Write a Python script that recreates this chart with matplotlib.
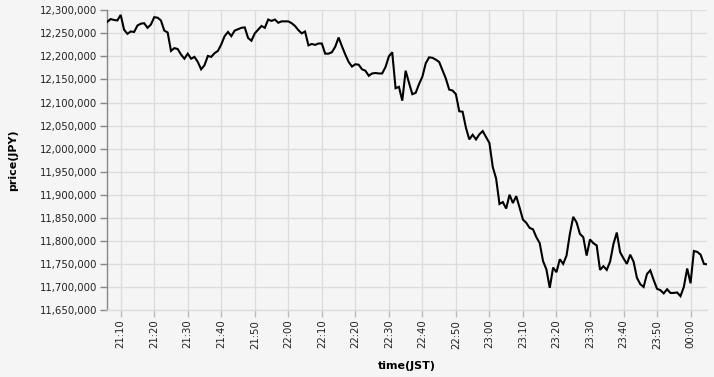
import matplotlib
matplotlib.use("Agg")
import matplotlib.pyplot as plt
import matplotlib.dates as mdates
from matplotlib.ticker import FuncFormatter, MultipleLocator
import pandas as pd

start_time = "2024-01-01 21:06"
prices = [
    12275000, 12281000, 12279000, 12278000, 12290000, 12258000, 12249000, 12254000, 12253000, 12267000,
    12271000, 12272000, 12262000, 12269000, 12285000, 12284000, 12278000, 12256000, 12252000, 12212000,
    12218000, 12216000, 12204000, 12195000, 12206000, 12195000, 12199000, 12188000, 12172000, 12181000,
    12201000, 12199000, 12207000, 12212000, 12226000, 12244000, 12253000, 12244000, 12256000, 12259000,
    12262000, 12263000, 12240000, 12234000, 12250000, 12258000, 12266000, 12262000, 12280000, 12277000,
    12280000, 12273000, 12276000, 12276000, 12276000, 12272000, 12266000, 12257000, 12250000, 12254000,
    12224000, 12227000, 12225000, 12228000, 12228000, 12206000, 12206000, 12209000, 12221000, 12241000,
    12222000, 12204000, 12188000, 12178000, 12183000, 12182000, 12172000, 12169000, 12158000, 12163000,
    12164000, 12163000, 12163000, 12177000, 12200000, 12209000, 12131000, 12134000, 12104000, 12169000,
    12143000, 12118000, 12121000, 12140000, 12156000, 12185000, 12198000, 12197000, 12193000, 12188000,
    12170000, 12152000, 12128000, 12126000, 12118000, 12081000, 12080000, 12045000, 12020000, 12030000,
    12020000, 12031000, 12038000, 12025000, 12012000, 11960000, 11935000, 11880000, 11884000, 11870000,
    11900000, 11882000, 11897000, 11872000, 11846000, 11839000, 11828000, 11825000, 11808000, 11795000,
    11756000, 11738000, 11698000, 11742000, 11732000, 11760000, 11750000, 11768000, 11815000, 11852000,
    11840000, 11815000, 11808000, 11768000, 11803000, 11795000, 11790000, 11737000, 11745000, 11737000,
    11755000, 11793000, 11818000, 11775000, 11762000, 11750000, 11770000, 11755000, 11720000, 11706000,
    11700000, 11728000, 11736000, 11715000, 11696000, 11693000, 11686000, 11695000, 11687000, 11687000,
    11688000, 11680000, 11700000, 11740000, 11708000, 11778000, 11776000, 11770000, 11750000, 11749000,
]
times = pd.date_range(start_time, periods=len(prices), freq="min")

y_min, y_max, y_step = 11650000, 12300000, 50000

bg = "#f5f5f5"
fig = plt.figure(figsize=(7.14, 3.77), dpi=100, facecolor=bg)
ax = fig.add_axes([107.3 / 714, 67 / 377, 600 / 714, 299.7 / 377], facecolor=bg)

ax.plot(times, prices, color="black", linewidth=1.5, solid_joinstyle="miter", zorder=3)

ax.set_xlim(times[0], times[-1])
ax.set_ylim(y_min, y_max)
ax.yaxis.set_major_locator(MultipleLocator(y_step))
ax.yaxis.set_major_formatter(FuncFormatter(lambda v, p: f"{int(round(v)):,}"))
ax.xaxis.set_major_locator(mdates.MinuteLocator(byminute=range(0, 60, 10)))
ax.xaxis.set_major_formatter(mdates.DateFormatter("%H:%M"))

ax.grid(True, color="#dddddd", linewidth=1.0, zorder=0)
ax.set_axisbelow(True)
for s in ["top", "right"]:
    ax.spines[s].set_visible(False)
ax.spines["left"].set_color("#888888")
ax.spines["left"].set_linewidth(1.0)
ax.spines["bottom"].set_color("#dddddd")
ax.spines["bottom"].set_linewidth(1.0)

ax.tick_params(axis="y", length=5, width=1, color="#888888", pad=2,
               labelsize=7.3, labelcolor="#222222")
ax.tick_params(axis="x", length=5, width=1, color="#bbbbbb", pad=2,
               labelsize=7.3, labelcolor="#222222")
for lab in ax.get_xticklabels():
    lab.set_rotation(90)
    lab.set_ha("center")

fig.text(407 / 714, 1 - 366 / 377, "time(JST)", fontsize=8, fontweight="bold",
         ha="center", va="center")
fig.text(13 / 714, 1 - 160 / 377, "price(JPY)", fontsize=8, fontweight="bold",
         ha="center", va="center", rotation=90)

fig.savefig("out.png", dpi=100, facecolor=bg)
